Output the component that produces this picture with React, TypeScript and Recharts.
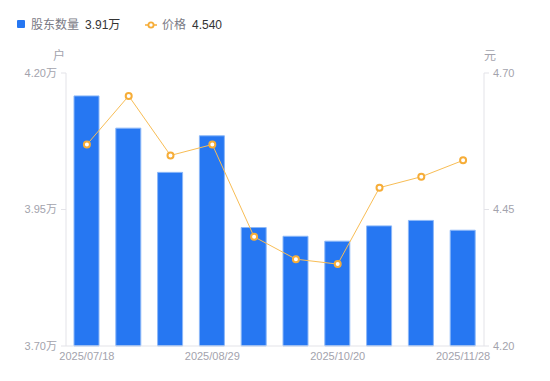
import React from 'react';
import { ComposedChart, Bar, Line, XAxis, YAxis } from 'recharts';

const dates = [
  '2025/07/18', '2025/07/31', '2025/08/20', '2025/08/29', '2025/09/10',
  '2025/09/30', '2025/10/20', '2025/10/31', '2025/11/10', '2025/11/28',
];
const holders = [4.158, 4.099, 4.018, 4.085, 3.917, 3.901, 3.892, 3.920, 3.930, 3.912];
const prices = [4.569, 4.658, 4.549, 4.569, 4.400, 4.359, 4.350, 4.490, 4.510, 4.540];
const leftTicks = [3.7, 3.95, 4.2];
const rightTicks = [4.2, 4.45, 4.7];

const data = dates.map((d, i) => ({ date: d, holders: holders[i], price: prices[i] }));

const FONT = "'Liberation Sans', 'Noto Sans CJK SC', sans-serif";
const BLUE = '#2677f2';
const BLUE_EDGE = '#8cb8f8';
const ORANGE = '#f6ad38';
const ORANGE_LINE = '#f8bd55';
const AXIS = '#e3e3e8';
const TICK = '#a3a3ad';

export default function App() {
  return (
    <div style={{ position: 'absolute', left: 0, top: 0, width: 550, height: 381, fontFamily: FONT }}>
      <div style={{ position: 'absolute', left: 17, top: 20, width: 8, height: 8, background: BLUE, borderRadius: 1 }} />
      <div style={{ position: 'absolute', left: 31, top: 17, fontSize: 12, lineHeight: '16px', color: '#7a7a85' }}>股东数量</div>
      <div style={{ position: 'absolute', left: 85, top: 17, fontSize: 12, lineHeight: '16px', color: '#333' }}>3.91万</div>
      <svg style={{ position: 'absolute', left: 145, top: 19 }} width={12} height={12}>
        <line x1={0} y1={6} x2={12} y2={6} stroke={ORANGE} strokeWidth={1.5} />
        <circle cx={6} cy={6} r={2.6} fill="#fff" stroke={ORANGE} strokeWidth={1.8} />
      </svg>
      <div style={{ position: 'absolute', left: 162, top: 17, fontSize: 12, lineHeight: '16px', color: '#7a7a85' }}>价格</div>
      <div style={{ position: 'absolute', left: 192, top: 17, fontSize: 12, lineHeight: '16px', color: '#333' }}>4.540</div>
      <ComposedChart
        width={550}
        height={381}
        data={data}
        margin={{ top: 73, right: 0, left: 0, bottom: 0 }}
        style={{ fontFamily: FONT }}
      >
        <XAxis
          dataKey="date"
          interval={2}
          height={35}
          tickLine={false}
          tickSize={4}
          tickMargin={2}
          axisLine={{ stroke: AXIS }}
          tick={{ fill: TICK, fontSize: 11 }}
        />
        <YAxis
          yAxisId="left"
          orientation="left"
          width={66}
          domain={[3.7, 4.2]}
          ticks={leftTicks}
          tickFormatter={(v: number) => v.toFixed(2) + '万'}
          tickSize={5}
          tickMargin={4}
          axisLine={{ stroke: AXIS }}
          tickLine={{ stroke: AXIS }}
          tick={{ fill: TICK, fontSize: 11 }}
          label={({ viewBox }: any) => (
            <text x={viewBox.x + viewBox.width - 7} y={viewBox.y - 13} textAnchor="middle" fontSize={12} fill={TICK}>户</text>
          )}
        />
        <YAxis
          yAxisId="right"
          orientation="right"
          width={66}
          domain={[4.2, 4.7]}
          ticks={rightTicks}
          tickFormatter={(v: number) => v.toFixed(2)}
          tickSize={5}
          tickMargin={4}
          axisLine={{ stroke: AXIS }}
          tickLine={{ stroke: AXIS }}
          tick={{ fill: TICK, fontSize: 11 }}
          label={({ viewBox }: any) => (
            <text x={viewBox.x + 6} y={viewBox.y - 13} textAnchor="middle" fontSize={12} fill={TICK}>元</text>
          )}
        />
        <Bar
          yAxisId="left"
          dataKey="holders"
          fill={BLUE}
          stroke={BLUE_EDGE}
          strokeWidth={1}
          barSize={25}
          isAnimationActive={false}
        />
        <Line
          yAxisId="right"
          dataKey="price"
          type="linear"
          stroke={ORANGE_LINE}
          strokeWidth={1}
          dot={{ r: 3, fill: '#fff', stroke: ORANGE, strokeWidth: 2 }}
          isAnimationActive={false}
        />
      </ComposedChart>
    </div>
  );
}
